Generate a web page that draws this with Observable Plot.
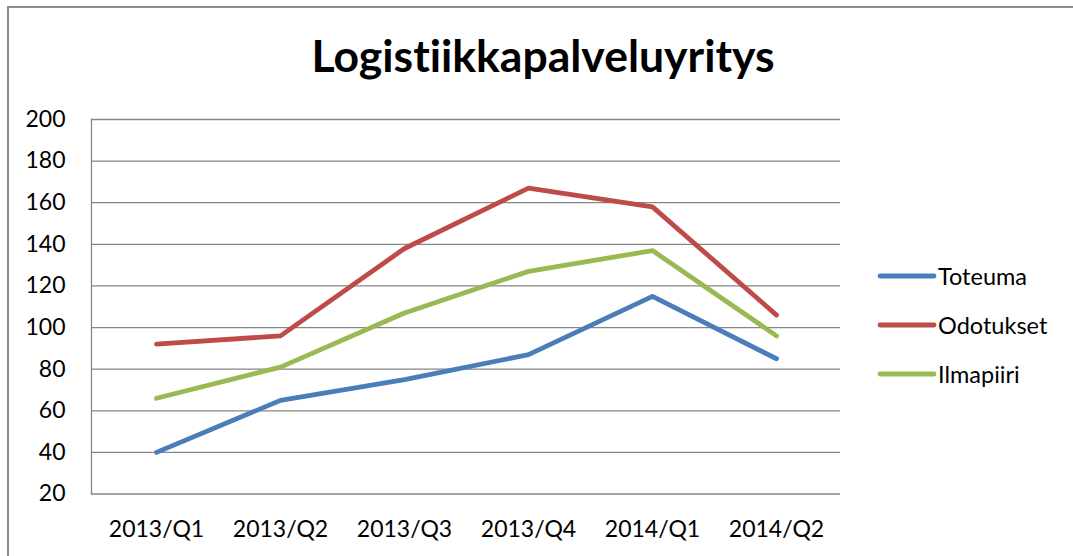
<!DOCTYPE html>
<html>
<head>
<meta charset="utf-8">
<script src="https://cdn.jsdelivr.net/npm/d3@7"></script>
<script src="https://cdn.jsdelivr.net/npm/@observablehq/plot@0.6"></script>
<style>
  html, body { margin: 0; padding: 0; background: #fff; }
  * { font-variant-ligatures: none; font-feature-settings: "liga" 0, "clig" 0; }
  #wrap { position: relative; width: 1073px; height: 556px; overflow: hidden; font-family: Lato, "Open Sans", sans-serif; }
  #frame { position: absolute; left: 7px; top: 6px; width: 1200px; height: 700px; border-left: 2px solid #8c8c8c; border-top: 2px solid #8c8c8c; }
  #title { position: absolute; left: 0; width: 1086px; top: 33px; text-align: center; font-weight: bold; font-size: 44.5px; color: #000; line-height: 1; }
  #chart { position: absolute; left: 0; top: 0; }
  #legend { position: absolute; left: 877px; top: 251px; font-size: 23.5px; color: #000; }
  .item { display: flex; align-items: center; height: 49px; }
  .item svg { margin-right: 1px; }
</style>
</head>
<body>
<div id="wrap">
  <div id="frame"></div>
  <div id="chart"></div>
  <div id="title"></div>
  <div id="legend"></div>
</div>
<script>
const titleText = "Logistiikkapalveluyritys";
const quarters = ["2013/Q1", "2013/Q2", "2013/Q3", "2013/Q4", "2014/Q1", "2014/Q2"];
const seriesNames = ["Toteuma", "Odotukset", "Ilmapiiri"];
const seriesColors = ["#4a7ebb", "#be4b48", "#98b954"];
const toteuma   = [40, 65, 75, 87, 115, 85];
const odotukset = [92, 96, 138, 167, 158, 106];
const ilmapiiri = [66, 81, 107, 127, 137, 96];
const yTicks = [20, 40, 60, 80, 100, 120, 140, 160, 180, 200];

const valuesBySeries = [toteuma, odotukset, ilmapiiri];
const data = [];
seriesNames.forEach((s, i) => quarters.forEach((q, j) => data.push({series: s, quarter: q, value: valuesBySeries[i][j]})));

document.getElementById("title").textContent = titleText;

const chart = Plot.plot({
  width: 1073,
  height: 556,
  marginLeft: 91,
  marginRight: 233,
  marginTop: 119,
  marginBottom: 62.5,
  style: { fontFamily: "Lato, 'Open Sans', sans-serif", fontSize: "23px", color: "#000", background: "transparent", fontVariantLigatures: "none" },
  x: { type: "point", domain: quarters, padding: 0.5, label: null },
  y: { domain: [20, 200], ticks: yTicks, label: null },
  color: { domain: seriesNames, range: seriesColors },
  marks: [
    Plot.gridY(yTicks, { stroke: "#868686", strokeOpacity: 1, strokeWidth: 1.3 }),
    Plot.frame({ anchor: "left", stroke: "#868686", strokeWidth: 1.3 }),
    Plot.axisY(yTicks, { tickSize: 0, tickPadding: 26, fontSize: 23, label: null }),
    Plot.axisX(quarters, { tickSize: 0, tickPadding: 27, fontSize: 23, label: null }),
    Plot.line(data, { x: "quarter", y: "value", z: "series", stroke: "series", strokeWidth: 4.8, strokeLinecap: "round", strokeLinejoin: "round" })
  ]
});
document.getElementById("chart").appendChild(chart);

const legend = document.getElementById("legend");
seriesNames.forEach((s, i) => {
  const div = document.createElement("div");
  div.className = "item";
  div.innerHTML = `<svg width="60" height="10"><line x1="3" y1="5" x2="57" y2="5" stroke="${seriesColors[i]}" stroke-width="4.8" stroke-linecap="round"/></svg><span>${s}</span>`;
  legend.appendChild(div);
});
</script>
</body>
</html>
